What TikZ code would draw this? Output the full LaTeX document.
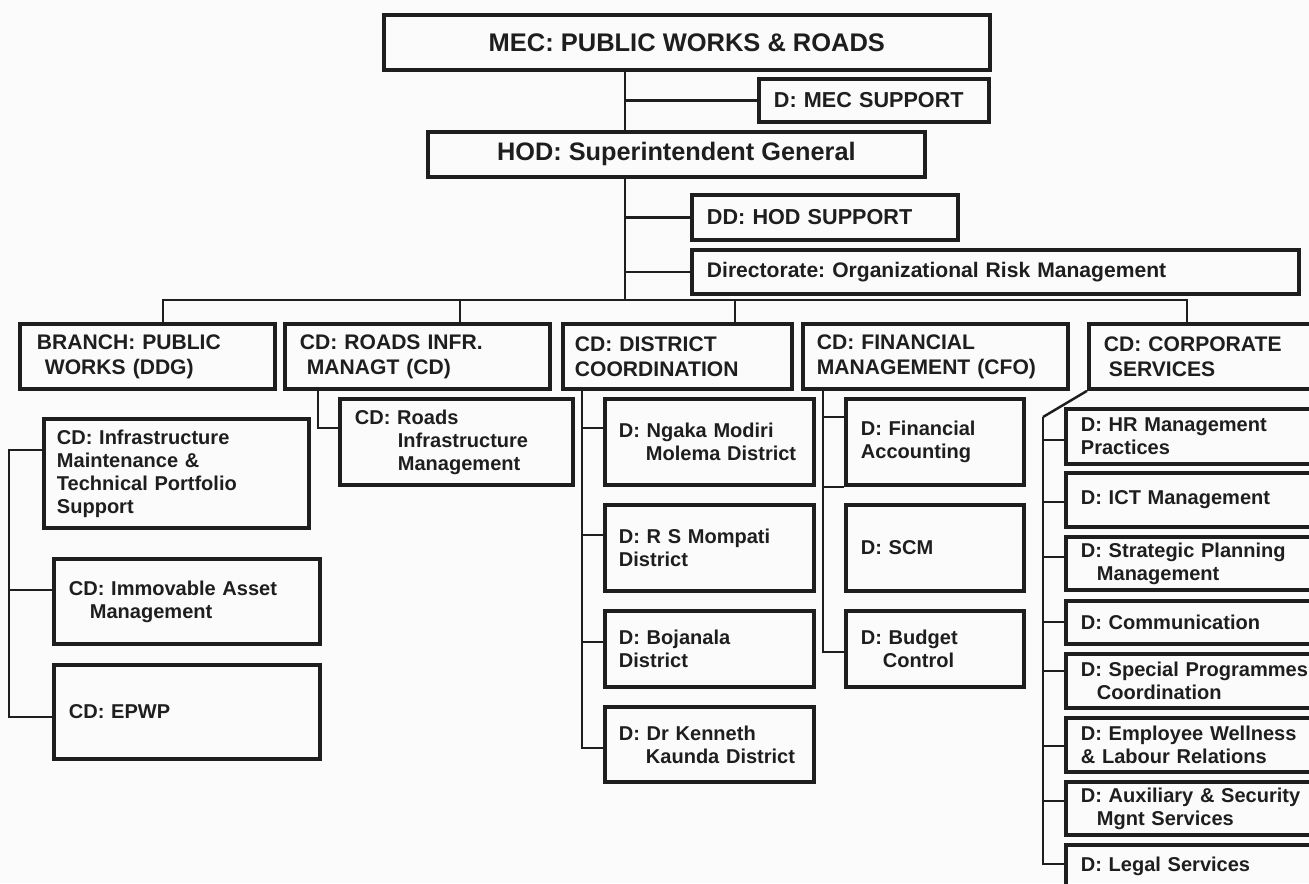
\documentclass[tikz,border=0pt]{standalone}
\usepackage{fontspec}
\setmainfont{Liberation Sans}
\usetikzlibrary{positioning}

\begin{document}
\frenchspacing
\begin{tikzpicture}[x=0.02cm,y=-0.02cm,
	box/.style={draw=ink,line width=2.2pt,anchor=north west,inner ysep=0pt,align=left,text=ink},
	top box/.style={box,align=center,font=\fontsize{14.5}{17}\selectfont\bfseries},
	mid box/.style={box,minimum height=1.3cm,font=\fontsize{12}{14.2}\selectfont\bfseries},
	low box/.style={box,font=\fontsize{11.4}{13.1}\selectfont\bfseries},
	side box/.style={box,font=\fontsize{12.3}{14.2}\selectfont\bfseries,inner xsep=.3cm},
	pw box/.style={low box,minimum width=5.32cm,text width=4.72cm,inner xsep=.3cm},
	dist box/.style={low box,minimum width=4.18cm,text width=3.62cm,inner xsep=.28cm},
	fin box/.style={low box,minimum width=3.56cm,text width=2.96cm,inner xsep=.3cm},
	corp box/.style={low box,minimum width=5.4cm,text width=4.8cm,inner xsep=.3cm},
	link/.style={draw=ink,line width=1.4pt}]
	
	\definecolor{ink}{RGB}{30,30,30}
	\definecolor{paper}{RGB}{251,251,251}
	
	\useasboundingbox (0,0) rectangle (1309,883);
	\clip (0,0) rectangle (1309,883);
	\fill[paper] (0,0) rectangle (1309,883);
	
	% top of the tree
	\node[top box,minimum width=12.12cm,minimum height=1.1cm] (mec) at (382,13) {MEC: PUBLIC WORKS \& ROADS};
	\node[side box,minimum width=4.6cm,minimum height=.86cm,text width=4cm] (mecsup) at (757,77) {D: MEC SUPPORT};
	\node[top box,minimum width=9.94cm,minimum height=.9cm,font=\fontsize{14.4}{17}\selectfont\bfseries] (hod) at (426,130) {HOD: Superintendent General};
	\node[side box,minimum width=5.32cm,minimum height=.9cm,text width=4.72cm] (hodsup) at (690,193) {DD: HOD SUPPORT};
	\node[side box,minimum width=12.14cm,minimum height=.88cm,text width=11.54cm,font=\fontsize{12}{14.2}\selectfont\bfseries] (risk) at (690,248) {Directorate: Organizational Risk Management};
	
	% branches
	\node[mid box,minimum width=5.1cm,text width=4.42cm,inner xsep=.34cm] (branch) at (18,322) {BRANCH: PUBLIC\\\hspace*{.16cm}WORKS (DDG)};
	\node[mid box,minimum width=5.3cm,text width=4.7cm,inner xsep=.3cm] (roads) at (283,322) {CD: ROADS INFR.\\\hspace*{.14cm}MANAGT (CD)};
	\node[mid box,minimum width=4.58cm,text width=4.1cm,inner xsep=.24cm] (district) at (561,322) {CD: DISTRICT\\COORDINATION};
	\node[mid box,minimum width=5.3cm,text width=4.74cm,inner xsep=.28cm] (finance) at (801,322) {CD: FINANCIAL\\MANAGEMENT (CFO)};
	\node[mid box,minimum width=5cm,text width=4.4cm,inner xsep=.3cm] (corporate) at (1087,322) {CD: CORPORATE\\\hspace*{.1cm}SERVICES};
	
	% public works
	\node[pw box,minimum width=5.3cm,text width=4.78cm,inner xsep=.26cm,minimum height=2.18cm] (infra) at (42,417) {CD: Infrastructure\\Maintenance \&\\Technical Portfolio\\Support};
	\node[pw box,minimum height=1.7cm] (immov) at (52,557) {CD: Immovable Asset\\\hspace*{.42cm}Management};
	\node[pw box,minimum height=1.88cm] (epwp) at (52,663) {CD: EPWP};
	
	% roads
	\node[low box,minimum width=4.66cm,text width=4.06cm,inner xsep=.3cm,minimum height=1.72cm] (roadsinfra) at (338,397) {CD: Roads\\\hspace*{.86cm}Infrastructure\\\hspace*{.86cm}Management};
	
	% districts
	\node[dist box,minimum height=1.72cm] (ngaka) at (603,397) {D: Ngaka Modiri\\\hspace*{.54cm}Molema District};
	\node[dist box,minimum height=1.72cm] (mompati) at (603,503) {D: R S Mompati\\District};
	\node[dist box,minimum height=1.52cm] (bojanala) at (603,609) {D: Bojanala\\District};
	\node[dist box,minimum height=1.5cm] (kenneth) at (603,705) {D: Dr Kenneth\\\hspace*{.54cm}Kaunda District};
	
	% finance
	\node[fin box,minimum height=1.72cm] (facc) at (844,397) {D: Financial\\Accounting};
	\node[fin box,minimum height=1.72cm] (scm) at (844,503) {D: SCM};
	\node[fin box,minimum height=1.52cm] (budget) at (844,609) {D: Budget\\\hspace*{.44cm}Control};
	
	% corporate services
	\node[corp box,minimum height=1.1cm] (hr) at (1064,407) {D: HR Management\\Practices};
	\node[corp box,minimum height=1.08cm] (ict) at (1064,471) {D: ICT Management};
	\node[corp box,minimum height=1.06cm] (strat) at (1064,535) {D: Strategic Planning\\\hspace*{.32cm}Management};
	\node[corp box,minimum height=.86cm] (comm) at (1064,599) {D: Communication};
	\node[corp box,minimum height=1.08cm] (special) at (1064,652) {D: Special Programmes\\\hspace*{.32cm}Coordination};
	\node[corp box,minimum height=1.08cm] (wellness) at (1064,716) {D: Employee Wellness\\\& Labour Relations};
	\node[corp box,minimum height=1.06cm] (aux) at (1064,780) {D: Auxiliary \& Security\\\hspace*{.32cm}Mgnt Services};
	\node[corp box,minimum height=.86cm] (legal) at (1064,843) {D: Legal Services};
	
	% trunk and bus
	\coordinate (bus) at (625,300);
	\coordinate (busl) at (163,300);
	\coordinate (busr) at (1187,300);
	\coordinate (b2) at (460,300);
	\coordinate (b3) at (735,300);
	\draw[link] (mec.south -| bus) -- (hod.north -| bus);
	\draw[link] (hod.south -| bus) -- (bus);
	\draw[link] (mecsup.west) -- (mecsup.west -| bus);
	\draw[link] (hodsup.west) -- (hodsup.west -| bus);
	\draw[link] (risk.west) -- (risk.west -| bus);
	\draw[link] (busl |- branch.north) -- (busl) -- (busr) -- (busr |- corporate.north);
	\draw[link] (b2) -- (b2 |- roads.north);
	\draw[link] (b3) -- (b3 |- district.north);
	
	% columns
	\coordinate (bc) at (9,450);
	\coordinate (rc) at (318,428);
	\coordinate (dc) at (582,387);
	\coordinate (fc) at (823,387);
	\coordinate (cc) at (1043,417);
	
	\draw[link] (infra.west |- bc) -- (bc) |- (epwp.west |- 0,717);
	\draw[link] (immov.west |- 0,590) -| (bc);
	
	\draw[link] (rc |- roads.south) -- (rc) -- (rc -| roadsinfra.west);
	
	\draw[link] (ngaka.west |- 0,428) -| (dc);
	\draw[link] (mompati.west |- 0,535) -| (dc);
	\draw[link] (bojanala.west |- 0,642) -| (dc);
	\draw[link] (kenneth.west |- 0,748) -| (dc);
	
	\draw[link] (facc.west |- 0,417) -| (fc);
	\draw[link] (facc.south west) -| (fc);
	\draw[link] (budget.west |- 0,652) -| (fc);
	
	\draw[link] (corporate.south west) -- (cc);
	\draw[link] (hr.west |- 0,440) -| (cc);
	\draw[link] (ict.west |- 0,502) -| (cc);
	\draw[link] (strat.west |- 0,557) -| (cc);
	\draw[link] (comm.west |- 0,622) -| (cc);
	\draw[link] (special.west |- 0,671) -| (cc);
	\draw[link] (wellness.west |- 0,746) -| (cc);
	\draw[link] (aux.west |- 0,801) -| (cc);
	\draw[link] (legal.west |- 0,864) -| (cc);
\end{tikzpicture}
\end{document}
